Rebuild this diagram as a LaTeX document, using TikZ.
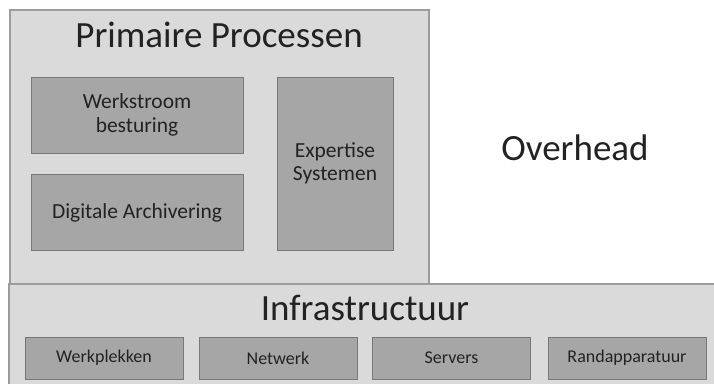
\documentclass[tikz,border=0pt]{standalone}
\usepackage{fontspec}
\setmainfont{Carlito}
\usetikzlibrary{positioning}

\definecolor{areafill}{HTML}{DADADA}
\definecolor{areaedge}{HTML}{9C9C9C}
\definecolor{blockfill}{HTML}{A6A6A6}
\definecolor{blockedge}{HTML}{777777}
\definecolor{inkgray}{HTML}{222222}

\tikzset{
  area/.style={draw=areaedge, fill=areafill, line width=2pt},
  block/.style={draw=blockedge, fill=blockfill, line width=1pt, align=center,
    text=inkgray, font=\fontsize{21.5}{23.5}\selectfont},
  tile/.style={draw=blockedge, fill=blockfill, line width=1pt,
    minimum width=158pt, minimum height=42pt, text=inkgray,
    font=\fontsize{18}{20}\selectfont},
  heading/.style={anchor=base, text=inkgray, font=\fontsize{37}{42}\selectfont},
}

\begin{document}
\begin{tikzpicture}[x=1pt,y=-1pt]
    \useasboundingbox (0,0) rectangle (714,383);
    \clip (0,0) rectangle (714,383);

    % primaire processen
    \node[area, minimum width=419pt, minimum height=274pt] (primair) at (219.5,147) {};
    \node[heading] (primairtitle) at (219,47) {Primaire Processen};
    \node[block, minimum width=212pt, minimum height=76pt] (werkstroom) at (137,115) {Werkstroom\\besturing};
    \node[block, minimum width=212pt, minimum height=76pt] (archief) at (137,212.5) {Digitale Archivering};
    \node[block, minimum width=116pt, minimum height=173pt] (expertise) at (335,163.5) {Expertise\\Systemen};

    % overhead
    \node[heading] (overhead) at (575,160) {Overhead};

    % infrastructuur
    \node[area, minimum width=712pt, minimum height=104pt] (infra) at (365,336) {};
    \node[heading] (infratitle) at (365,320) {Infrastructuur};
    \node[tile] (werkplek) at (104,358) {Werkplekken};
    \node[tile] (netwerk) at (278,358) {Netwerk};
    \node[tile] (servers) at (451.5,358) {Servers};
    \node[tile] (rand) at (627,358) {Randapparatuur};
\end{tikzpicture}
\end{document}
